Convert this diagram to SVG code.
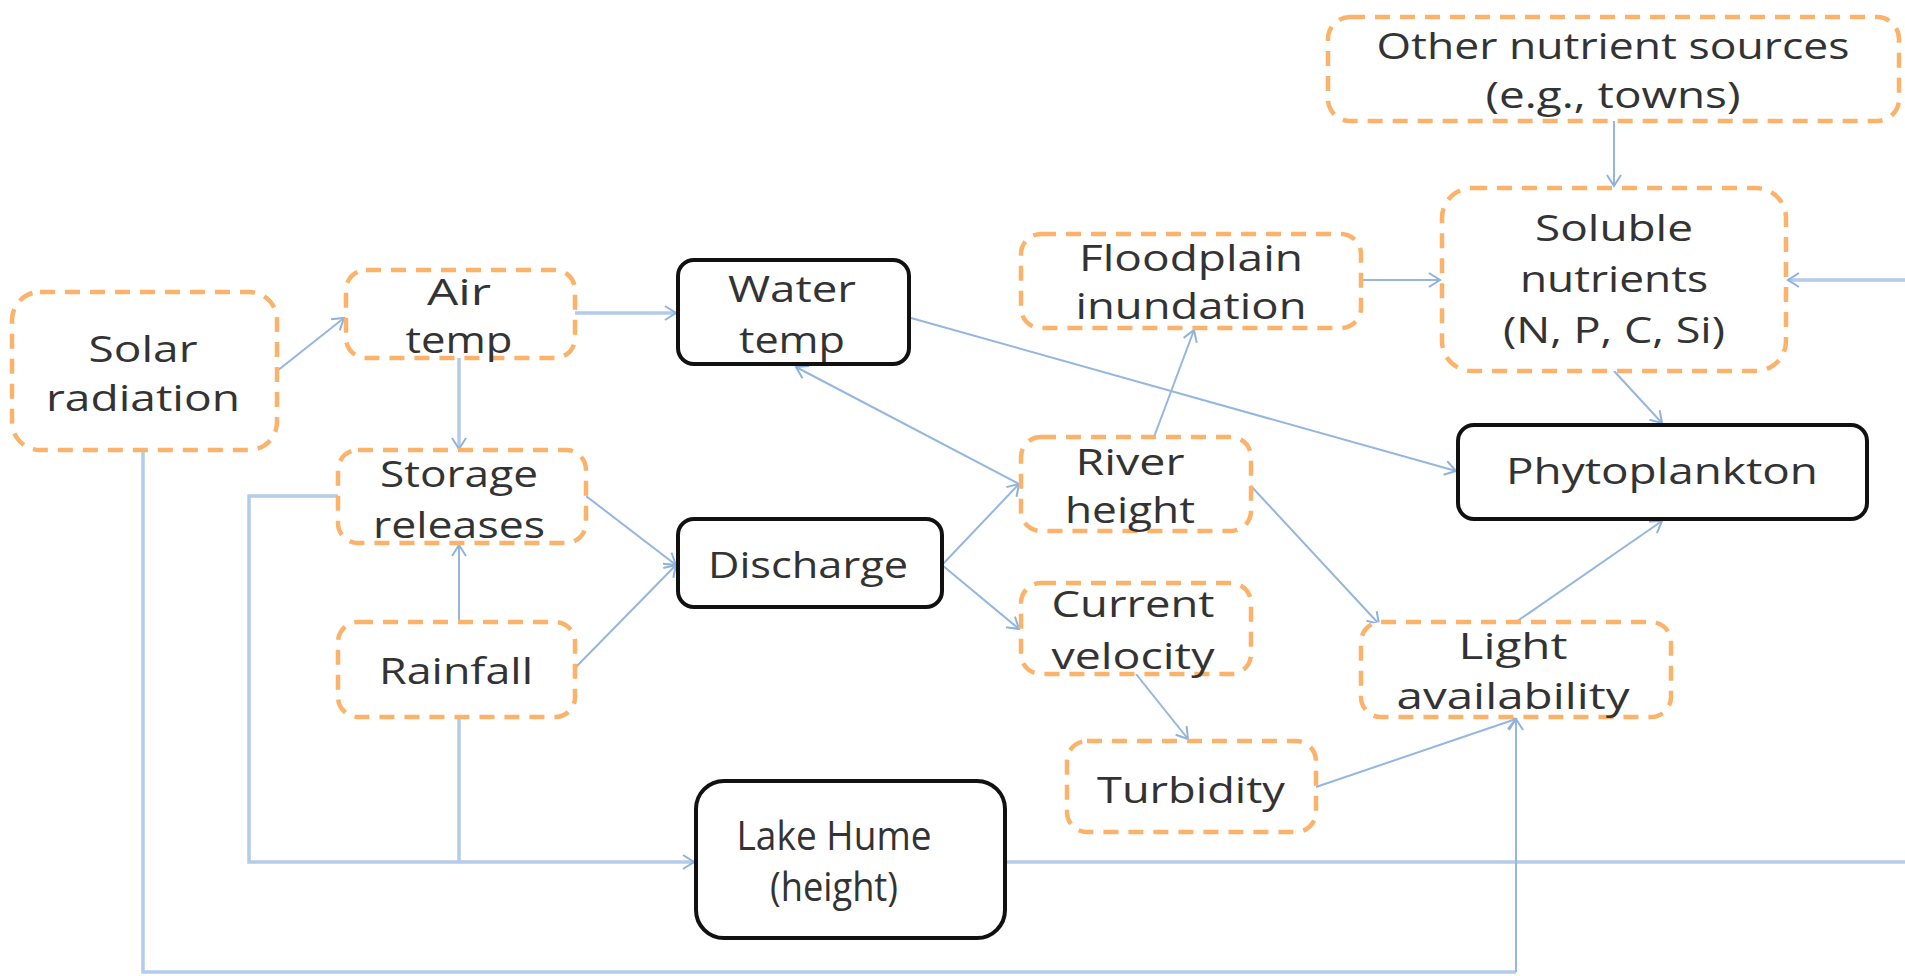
<svg xmlns="http://www.w3.org/2000/svg" width="1905" height="976" viewBox="0 0 1905 976">
<style>
.d{fill:#fff;stroke:#fbb26a;stroke-width:4.5;stroke-dasharray:15 10}
.b{fill:#fff;stroke:#111;stroke-width:4}
.t{font-family:"Open Sans",sans-serif;font-size:37px;fill:#333;text-anchor:middle}
.big{font-size:41px}
.c{fill:none;stroke:#94b6df;stroke-width:2}
.w{fill:none;stroke:#b4cbe9;stroke-width:3.5}
</style>
<defs>
<marker id="a" markerUnits="userSpaceOnUse" markerWidth="16" markerHeight="16" refX="13" refY="8" orient="auto">
<path d="M2,1 L13,8 L2,15" fill="none" stroke="#8fb2dd" stroke-width="2"/>
</marker>
</defs>
<g id="connectors">
<line class="c" x1="277" y1="371" x2="344" y2="318" marker-end="url(#a)"/>
<line class="w" x1="575" y1="313" x2="676" y2="313" marker-end="url(#a)"/>
<line class="w" x1="459" y1="358" x2="459" y2="449" marker-end="url(#a)"/>
<line class="c" x1="459" y1="622" x2="459" y2="545" marker-end="url(#a)"/>
<line class="c" x1="586" y1="496" x2="676" y2="565" marker-end="url(#a)"/>
<line class="c" x1="575" y1="668" x2="676" y2="565" marker-end="url(#a)"/>
<line class="c" x1="942" y1="565" x2="1019" y2="484" marker-end="url(#a)"/>
<line class="c" x1="942" y1="565" x2="1019" y2="629" marker-end="url(#a)"/>
<line class="c" x1="1019" y1="484" x2="796" y2="367" marker-end="url(#a)"/>
<line class="c" x1="1154" y1="437" x2="1194" y2="330" marker-end="url(#a)"/>
<line class="c" x1="911" y1="318" x2="1456" y2="471" marker-end="url(#a)"/>
<line class="c" x1="1251" y1="486" x2="1379" y2="624" marker-end="url(#a)"/>
<line class="c" x1="1136" y1="674" x2="1188" y2="739" marker-end="url(#a)"/>
<line class="c" x1="1316" y1="787" x2="1516" y2="719" marker-end="url(#a)"/>
<line class="c" x1="1516" y1="622" x2="1662" y2="521" marker-end="url(#a)"/>
<line class="c" x1="1361" y1="280" x2="1440" y2="280" marker-end="url(#a)"/>
<line class="c" x1="1614" y1="121" x2="1614" y2="186" marker-end="url(#a)"/>
<line class="c" x1="1614" y1="371" x2="1662" y2="423" marker-end="url(#a)"/>
<line class="w" x1="1905" y1="280" x2="1788" y2="280" marker-end="url(#a)"/>
<line class="w" x1="1005" y1="862" x2="1905" y2="862"/>
<polyline class="w" points="143,450 143,972 1516,972"/>
<line class="c" x1="1516" y1="972" x2="1516" y2="719" marker-end="url(#a)"/>
<polyline class="w" points="338,496 249,496 249,862 694,862" marker-end="url(#a)"/>
<line class="w" x1="459" y1="717" x2="459" y2="862"/>
</g>
<g id="other"><rect class="d" x="1328" y="17" width="571" height="104" rx="22"/><text class="t" x="1613" y="59" textLength="473" lengthAdjust="spacingAndGlyphs">Other nutrient sources</text><text class="t" x="1613" y="108" textLength="255" lengthAdjust="spacingAndGlyphs">(e.g., towns)</text></g>
<g id="soluble"><rect class="d" x="1442" y="188" width="344" height="183" rx="30"/><text class="t" x="1614" y="241" textLength="158" lengthAdjust="spacingAndGlyphs">Soluble</text><text class="t" x="1614" y="292" textLength="188" lengthAdjust="spacingAndGlyphs">nutrients</text><text class="t" x="1614" y="343" textLength="222" lengthAdjust="spacingAndGlyphs">(N, P, C, Si)</text></g>
<g id="floodplain"><rect class="d" x="1021" y="234" width="340" height="94" rx="20"/><text class="t" x="1191" y="271" textLength="224" lengthAdjust="spacingAndGlyphs">Floodplain</text><text class="t" x="1191" y="319" textLength="231" lengthAdjust="spacingAndGlyphs">inundation</text></g>
<g id="solar"><rect class="d" x="12" y="292" width="265" height="158" rx="28"/><text class="t" x="143" y="362" textLength="109" lengthAdjust="spacingAndGlyphs">Solar</text><text class="t" x="143" y="411" textLength="194" lengthAdjust="spacingAndGlyphs">radiation</text></g>
<g id="airtemp"><rect class="d" x="346" y="270" width="229" height="88" rx="20"/><text class="t" x="459" y="305" textLength="64" lengthAdjust="spacingAndGlyphs">Air</text><text class="t" x="459" y="353" textLength="107" lengthAdjust="spacingAndGlyphs">temp</text></g>
<g id="watertemp"><rect class="b" x="678" y="260" width="231" height="104" rx="16"/><text class="t" x="792" y="302" textLength="128" lengthAdjust="spacingAndGlyphs">Water</text><text class="t" x="792" y="353" textLength="106" lengthAdjust="spacingAndGlyphs">temp</text></g>
<g id="phyto"><rect class="b" x="1458" y="425" width="409" height="94" rx="16"/><text class="t" x="1662" y="484" textLength="312" lengthAdjust="spacingAndGlyphs">Phytoplankton</text></g>
<g id="storage"><rect class="d" x="338" y="450" width="248" height="93" rx="20"/><text class="t" x="459" y="487" textLength="158" lengthAdjust="spacingAndGlyphs">Storage</text><text class="t" x="459" y="538" textLength="172" lengthAdjust="spacingAndGlyphs">releases</text></g>
<g id="river"><rect class="d" x="1021" y="437" width="230" height="94" rx="20"/><text class="t" x="1130" y="475" textLength="109" lengthAdjust="spacingAndGlyphs">River</text><text class="t" x="1130" y="523" textLength="130" lengthAdjust="spacingAndGlyphs">height</text></g>
<g id="discharge"><rect class="b" x="678" y="519" width="264" height="88" rx="16"/><text class="t" x="808" y="578" textLength="200" lengthAdjust="spacingAndGlyphs">Discharge</text></g>
<g id="current"><rect class="d" x="1021" y="583" width="230" height="91" rx="20"/><text class="t" x="1133" y="617" textLength="163" lengthAdjust="spacingAndGlyphs">Current</text><text class="t" x="1133" y="669" textLength="163" lengthAdjust="spacingAndGlyphs">velocity</text></g>
<g id="light"><rect class="d" x="1361" y="622" width="310" height="95" rx="20"/><text class="t" x="1513" y="659" textLength="109" lengthAdjust="spacingAndGlyphs">Light</text><text class="t" x="1513" y="709" textLength="233" lengthAdjust="spacingAndGlyphs">availability</text></g>
<g id="rainfall"><rect class="d" x="338" y="622" width="237" height="95" rx="20"/><text class="t" x="456" y="684" textLength="154" lengthAdjust="spacingAndGlyphs">Rainfall</text></g>
<g id="turbidity"><rect class="d" x="1067" y="741" width="249" height="91" rx="20"/><text class="t" x="1191" y="803" textLength="188" lengthAdjust="spacingAndGlyphs">Turbidity</text></g>
<g id="lakehume"><rect class="b" x="696" y="781" width="309" height="157" rx="28"/><text class="t big" x="834" y="850" textLength="195" lengthAdjust="spacingAndGlyphs">Lake Hume</text><text class="t big" x="834" y="901" textLength="128" lengthAdjust="spacingAndGlyphs">(height)</text></g>
</svg>
